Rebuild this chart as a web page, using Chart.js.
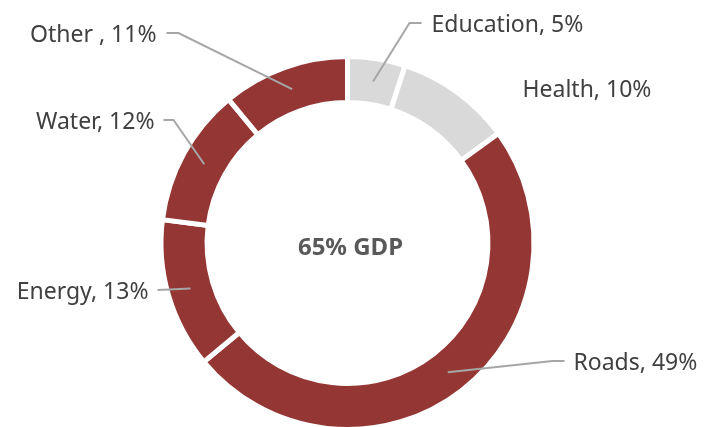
<!DOCTYPE html>
<html>
<head>
<meta charset="utf-8">
<script src="https://cdn.jsdelivr.net/npm/chart.js@4/dist/chart.umd.min.js"></script>
<style>
    html, body { margin: 0; padding: 0; background: #ffffff; overflow: hidden; }
    /* canvas runs a little below the window so the ring can touch the bottom edge */
    #wrap { width: 706px; height: 440px; position: relative; }
</style>
</head>
<body>
<div id="wrap"><canvas id="spendchart"></canvas></div>
<script>
// Data block
const sectors = ['Education', 'Health', 'Roads', 'Energy', 'Water', 'Other '];
const shares = [5, 10, 49, 13, 12, 11];
const sectorColors = ['#D9D9D9', '#D9D9D9', '#943634', '#943634', '#943634', '#943634'];
const centerText = '65% GDP';

// Label placement, relative to the doughnut centre
// side: which way the text runs from its point, elbow/end: leader line
const labelLayout = [
    {side: 'left', elbow: [62, -220], end: [74, -220], text: [84, -218]},
    {side: 'left', elbow: null, end: null, text: [175, -153]},
    {side: 'left', elbow: [205, 118], end: [217, 118], text: [226, 120]},
    {side: 'right', elbow: null, end: [-190, 47], text: [-199, 49]},
    {side: 'right', elbow: [-174, -123], end: [-184, -123], text: [-193, -121]},
    {side: 'right', elbow: [-169, -210], end: [-181, -210], text: [-191, -208]},
];

// Labels + centre text plugin block
const sectorLabels = {
    id: 'sectorLabels',
    afterDatasetsDraw(chart) {
        const ctx = chart.ctx;
        const meta = chart.getDatasetMeta(0);
        const cx = meta.data[0].x;
        const cy = meta.data[0].y;
        ctx.save();
        meta.data.forEach(function(arc, i) {
            const lay = labelLayout[i];
            // leader line from the middle of the ring
            if (lay.end) {
                const p = arc.getCenterPoint();
                ctx.beginPath();
                ctx.moveTo(p.x, p.y);
                if (lay.elbow) ctx.lineTo(cx + lay.elbow[0], cy + lay.elbow[1]);
                ctx.lineTo(cx + lay.end[0], cy + lay.end[1]);
                ctx.strokeStyle = '#A6A6A6';
                ctx.lineWidth = 2;
                ctx.stroke();
            }
            ctx.font = '23px "Noto Sans"';
            ctx.fillStyle = '#404040';
            ctx.textBaseline = 'middle';
            ctx.textAlign = lay.side === 'left' ? 'left' : 'right';
            ctx.fillText(sectors[i] + ', ' + shares[i] + '%', cx + lay.text[0], cy + lay.text[1]);
        });
        // centre text
        ctx.font = 'bold 24px "Noto Sans"';
        ctx.fillStyle = '#595959';
        ctx.textAlign = 'center';
        ctx.textBaseline = 'middle';
        ctx.fillText(centerText, cx + 3, cy + 5);
        ctx.restore();
    }
}

// Config block
const spendConfig = {
    type: 'doughnut',
    data: {
        labels: sectors,
        datasets: [
            {
            data: shares,
            backgroundColor: sectorColors,
            // white border gives the even gaps between slices
            borderColor: '#ffffff',
            borderWidth: 5,
            borderJoinStyle: 'miter',
            }
        ]  // End datasets
    },
    options: {
        responsive: true,
        maintainAspectRatio: false,
        animation: false,
        cutout: '75.3%',
        layout: {
            padding: {left: 158.5, right: 169.5, top: 54, bottom: 8}
        },
        plugins: {
            legend: {display: false},
            tooltip: {enabled: false},
        },  // End plugins
    },  // End options
    plugins: [sectorLabels]
};  // End config

// render / init block
const spendChart = new Chart(
    document.getElementById('spendchart'),
    spendConfig
)  // End Chart
</script>
</body>
</html>
